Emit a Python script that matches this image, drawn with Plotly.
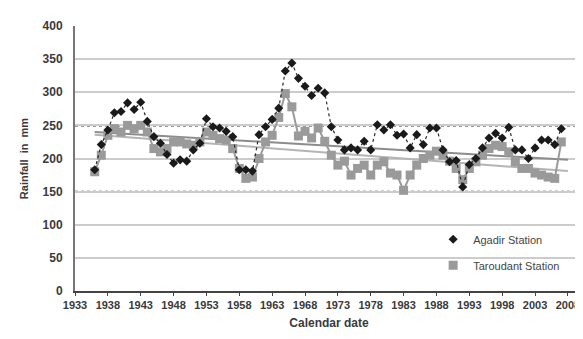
import plotly.graph_objects as go

years_agadir = list(range(1936, 2008))
agadir = [183, 221, 243, 269, 271, 284, 274, 285, 256, 233,
          223, 206, 193, 198, 196, 213, 223, 260, 248, 246,
          241, 233, 183, 183, 181, 236, 248, 259, 276, 332,
          344, 321, 309, 295, 306, 299, 248, 228, 213, 216,
          213, 226, 213, 251, 243, 251, 235, 237, 216, 236,
          221, 246, 246, 213, 195, 197, 157, 191, 200, 216,
          231, 238, 231, 247, 213, 213, 200, 216, 228, 228,
          221, 245]

years_taroudant = list(range(1936, 2008))
taroudant = [180, 205, 235, 245, 240, 250, 245, 250, 240, 215,
             210, 215, 225, 225, 222, 220, 225, 240, 235, 230,
             228, 215, 185, 170, 172, 200, 225, 235, 262, 298,
             278, 234, 241, 231, 246, 226, 205, 190, 196, 175,
             185, 190, 175, 190, 195, 178, 175, 152, 175, 190,
             200, 205, 211, 205, 196, 185, 168, 185, 195, 205,
             215, 220, 218, 210, 195, 185, 185, 178, 175, 172,
             170, 225]

trend_years = [1936, 2008]
agadir_trend = [240, 198]
taroudant_trend = [236, 181]

ref_levels = [150, 250]
x_ticks = list(range(1933, 2009, 5))
y_ticks = list(range(0, 401, 50))

fig = go.Figure()

fig.add_trace(go.Scatter(x=trend_years, y=taroudant_trend, mode="lines",
                         line=dict(color="#b4b4b4", width=2), showlegend=False,
                         hoverinfo="skip"))
fig.add_trace(go.Scatter(x=trend_years, y=agadir_trend, mode="lines",
                         line=dict(color="#8c8c8c", width=2), showlegend=False,
                         hoverinfo="skip"))

fig.add_trace(go.Scatter(x=years_taroudant, y=taroudant, mode="lines+markers",
                         showlegend=False,
                         line=dict(color="#9a9a9a", width=2),
                         marker=dict(symbol="square", size=9, color="#9a9a9a")))
fig.add_trace(go.Scatter(x=years_agadir, y=agadir, mode="lines+markers",
                         showlegend=False,
                         line=dict(color="#2a2a2a", width=1.2, dash="dot"),
                         marker=dict(symbol="diamond", size=7, color="#1a1a1a")))

# legend-only entries (markers only, as in the original legend)
fig.add_trace(go.Scatter(x=[None], y=[None], mode="markers", name="Agadir Station",
                         legendgroup="a",
                         marker=dict(symbol="diamond", size=7, color="#1a1a1a")))
fig.add_trace(go.Scatter(x=[None], y=[None], mode="markers", name="Taroudant Station",
                         legendgroup="t",
                         marker=dict(symbol="square", size=9, color="#9a9a9a")))

for lv in ref_levels:
    fig.add_shape(type="line", xref="paper", x0=0, x1=1, yref="y", y0=lv, y1=lv,
                  line=dict(color="#3a3a3a", width=2, dash="dot"), layer="between")

fig.update_layout(
    width=583, height=339,
    margin=dict(l=67, r=8, t=18, b=56),
    paper_bgcolor="white", plot_bgcolor="white",
    font=dict(family="Liberation Sans, Arial", color="#333333"),
    showlegend=True,
    legend=dict(x=0.705, y=0.25, xanchor="left", yanchor="top",
                bgcolor="rgba(0,0,0,0)", font=dict(size=11, color="#444444"),
                tracegroupgap=7, itemwidth=30),
    xaxis=dict(range=[1933, 2010.3], tickvals=x_ticks,
               ticktext=["<b>%d</b>" % v for v in x_ticks],
               showgrid=False, zeroline=False, showline=True, linecolor="#444444",
               linewidth=2, ticks="outside", ticklen=3, tickcolor="#444444",
               tickfont=dict(size=11, color="#3a3a3a"),
               title=dict(text="<b>Calendar date</b>", font=dict(size=12, color="#3a3a3a"),
                          standoff=8)),
    yaxis=dict(range=[0, 400], tickvals=y_ticks,
               ticktext=["<b>%d</b>" % v for v in y_ticks],
               showgrid=True, gridcolor="#cccccc",
               gridwidth=2, zeroline=False, showline=True, linecolor="#777777",
               linewidth=2, ticks="", ticklabelstandoff=8,
               tickfont=dict(size=12, color="#3a3a3a"),
               title=dict(text="<b>Rainfall  in  mm</b>", font=dict(size=11, color="#3a3a3a"),
                          standoff=12)),
)

fig.write_html("out.html")
